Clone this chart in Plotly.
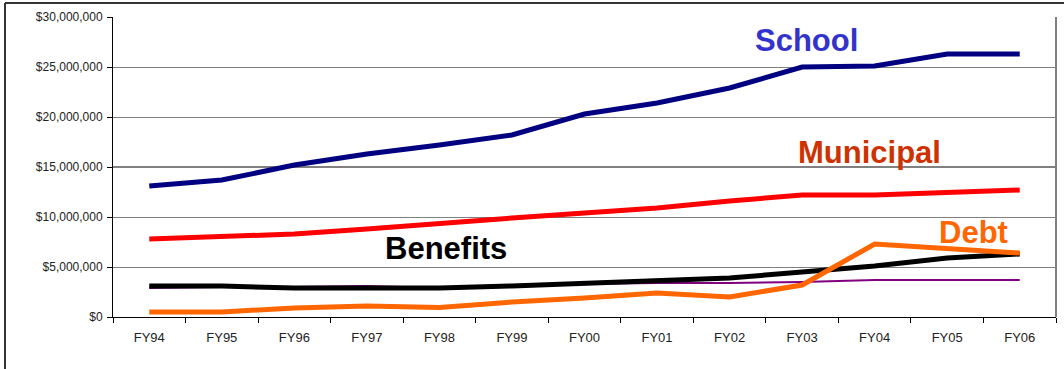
import plotly.graph_objects as go

# Fiscal years on the category axis
years = ["FY94", "FY95", "FY96", "FY97", "FY98", "FY99", "FY00",
         "FY01", "FY02", "FY03", "FY04", "FY05", "FY06"]

# Spending by category (dollars)
school = [13.1e6, 13.7e6, 15.2e6, 16.3e6, 17.2e6, 18.2e6, 20.3e6,
          21.4e6, 22.9e6, 25.0e6, 25.1e6, 26.3e6, 26.3e6]
municipal = [7.8e6, 8.0e6, 8.3e6, 8.8e6, 9.4e6, 9.9e6, 10.4e6,
             10.9e6, 11.6e6, 12.2e6, 12.2e6, 12.5e6, 12.7e6]
other = [2.9e6, 3.0e6, 3.0e6, 3.1e6, 2.9e6, 3.2e6, 3.3e6,
         3.4e6, 3.4e6, 3.5e6, 3.7e6, 3.7e6, 3.7e6]
benefits = [3.1e6, 3.1e6, 2.9e6, 2.9e6, 2.9e6, 3.1e6, 3.4e6,
            3.6e6, 3.9e6, 4.5e6, 5.1e6, 5.9e6, 6.3e6]
debt = [0.5e6, 0.5e6, 0.9e6, 1.1e6, 0.95e6, 1.5e6, 1.9e6,
        2.4e6, 2.0e6, 3.2e6, 7.3e6, 6.8e6, 6.4e6]

y_ticks = [0, 5e6, 10e6, 15e6, 20e6, 25e6, 30e6]
y_tick_text = ["$" + f"{v:,.0f}" for v in y_ticks]

fig = go.Figure()

series = [
    ("School", school, "#000080", 5),
    ("Municipal", municipal, "#FF0000", 5),
    ("Other", other, "#800080", 2),
    ("Benefits", benefits, "#000000", 5),
    ("Debt", debt, "#FF6600", 5),
]
for name, vals, color, width in series:
    fig.add_trace(go.Scatter(
        x=years, y=vals, name=name, mode="lines",
        line=dict(color=color, width=width),
        showlegend=False,
    ))

label_font = "Liberation Sans, Arial, sans-serif"
labels = [
    ("School", 9.06, 27.7e6, "#3333CC"),
    ("Municipal", 9.93, 16.5e6, "#CC3300"),
    ("Benefits", 4.09, 6.9e6, "#000000"),
    ("Debt", 11.36, 8.5e6, "#FF6600"),
]
for text, xi, yv, color in labels:
    fig.add_annotation(
        x=xi, y=yv, xref="x", yref="y", text=f"<b>{text}</b>",
        showarrow=False, xanchor="center", yanchor="middle",
        font=dict(family=label_font, size=31, color=color),
    )

# Darker rule at the $15M line
fig.add_shape(type="line", xref="paper", yref="y", x0=0, x1=1,
              y0=15e6, y1=15e6, line=dict(color="#000000", width=1),
              layer="below")

# Plot-area right edge
fig.add_shape(type="line", xref="paper", yref="paper", x0=1, x1=1,
              y0=0, y1=1, line=dict(color="#808080", width=2))

# Chart-area frame (left and top edges visible)
fig.add_shape(type="line", xref="paper", yref="paper",
              x0=-108 / 943, x1=-108 / 943, y0=1 + 14 / 300, y1=-60 / 300,
              line=dict(color="#333333", width=2))
fig.add_shape(type="line", xref="paper", yref="paper",
              x0=-108 / 943, x1=1 + 20 / 943, y0=1 + 14 / 300, y1=1 + 14 / 300,
              line=dict(color="#333333", width=2))

fig.update_xaxes(
    type="category", range=[-0.5, 12.5],
    showline=True, linecolor="#000000", linewidth=1,
    ticks="outside", tickson="boundaries", ticklen=5, tickcolor="#000000",
    ticklabelstandoff=8,
    showgrid=False,
    tickfont=dict(family=label_font, size=13, color="#222222"),
)
fig.update_yaxes(
    range=[0, 30e6], tickvals=y_ticks, ticktext=y_tick_text,
    showline=True, linecolor="#000000", linewidth=1,
    ticks="outside", ticklen=5, tickcolor="#000000",
    ticklabelstandoff=2,
    showgrid=True, gridcolor="#808080", gridwidth=1,
    zeroline=False,
    tickfont=dict(family=label_font, size=12, color="#222222"),
)

fig.update_layout(
    width=1064, height=369,
    margin=dict(l=113, r=8, t=17, b=52),
    paper_bgcolor="#FFFFFF", plot_bgcolor="#FFFFFF",
)

fig.write_html("out.html")
